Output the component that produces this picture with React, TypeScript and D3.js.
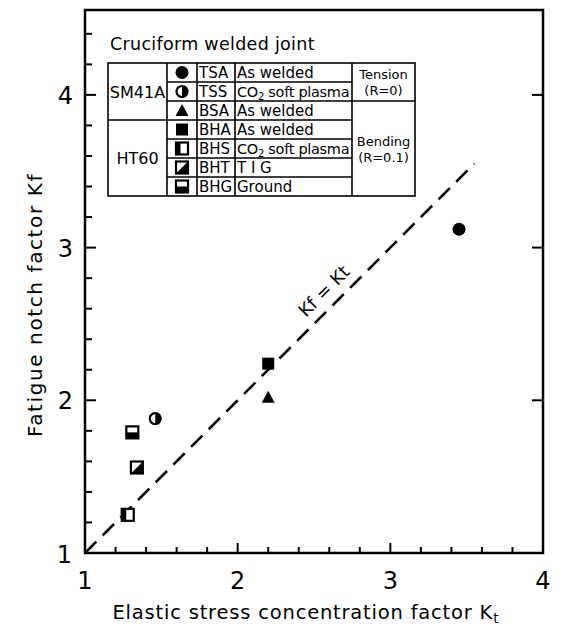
import React from "react";
import * as d3 from "d3";

// Kt (elastic stress concentration factor) and Kf (fatigue notch factor)
const codes = ["TSA", "TSS", "BSA", "BHA", "BHS", "BHT", "BHG"];
const kt = [3.45, 1.46, 2.2, 2.2, 1.28, 1.34, 1.31];
const kf = [3.12, 1.88, 2.02, 2.24, 1.25, 1.56, 1.79];
const conditions = ["As welded", "CO2 soft plasma", "As welded", "As welded", "CO2 soft plasma", "T I G", "Ground"];
const materials = [{ name: "SM41A", from: 0, to: 3 }, { name: "HT60", from: 3, to: 7 }];
const loadings = [
  { lines: ["Tension", "(R=0)"], from: 0, to: 2 },
  { lines: ["Bending", "(R=0.1)"], from: 2, to: 7 },
];
const xTickLabels = [1, 2, 3, 4];
const yTickLabels = [2, 3, 4];
const equalityLine = [1, 3.55];

const W = 561;
const H = 632;
const font = "DejaVu Sans, sans-serif";

const x = d3.scaleLinear().domain([1, 4]).range([85, 543]);
const y = d3.scaleLinear().domain([1, 4.556]).range([553, 10]);

function Marker({ code, cx, cy }: { code: string; cx: number; cy: number }) {
  const s = 12;
  const h = s / 2;
  const sq = { x: cx - h, y: cy - h, width: s, height: s };
  switch (code) {
    case "TSA":
      return <circle cx={cx} cy={cy} r={6.5} fill="#000" />;
    case "TSS":
      return (
        <g>
          <circle cx={cx} cy={cy} r={5.5} fill="#fff" stroke="#000" strokeWidth={2.2} />
          <path d={`M${cx},${cy - 5.5} A5.5,5.5 0 0 1 ${cx},${cy + 5.5} Z`} fill="#000" />
        </g>
      );
    case "BSA":
      return <path d={`M${cx},${cy - 6.5} L${cx + 6.5},${cy + 5.5} L${cx - 6.5},${cy + 5.5} Z`} fill="#000" />;
    case "BHA":
      return <rect {...sq} fill="#000" />;
    case "BHS":
      return (
        <g>
          <rect {...sq} fill="#fff" stroke="#000" strokeWidth={2.2} />
          <rect x={cx - h} y={cy - h} width={4.5} height={s} fill="#000" />
        </g>
      );
    case "BHT":
      return (
        <g>
          <rect {...sq} fill="#fff" stroke="#000" strokeWidth={2.2} />
          <path d={`M${cx + h},${cy - h} L${cx + h},${cy + h} L${cx - h},${cy + h} Z`} fill="#000" />
        </g>
      );
    default:
      return (
        <g>
          <rect {...sq} fill="#fff" stroke="#000" strokeWidth={2.2} />
          <rect x={cx - h} y={cy} width={s} height={h} fill="#000" />
        </g>
      );
  }
}

function Condition({ text, tx, ty }: { text: string; tx: number; ty: number }) {
  if (text.startsWith("CO2")) {
    return (
      <text x={tx} y={ty} fontSize={14.5} fontFamily={font} letterSpacing={-0.3}>
        CO<tspan fontSize={10} dy={3}>2</tspan>
        <tspan dy={-3}> soft plasma</tspan>
      </text>
    );
  }
  return (
    <text x={tx} y={ty} fontSize={15} fontFamily={font}>
      {text}
    </text>
  );
}

function Legend() {
  const left = 108;
  const cols = [108, 167, 197, 235, 352, 415];
  const top = 63;
  const rowH = 19;
  const rows = d3.range(codes.length + 1).map((i) => top + i * rowH);
  const bottom = rows[rows.length - 1];
  return (
    <g stroke="#000" strokeWidth={1.6}>
      <text x={left + 2} y={50} fontSize={17.5} fontFamily={font} stroke="none" letterSpacing={0.3}>
        Cruciform welded joint
      </text>
      <rect x={left} y={top} width={cols[5] - left} height={bottom - top} fill="none" />
      {cols.slice(1, 5).map((c) => (
        <line key={c} x1={c} x2={c} y1={top} y2={bottom} />
      ))}
      {rows.slice(1, -1).map((r) => (
        <line key={r} x1={cols[1]} x2={cols[4]} y1={r} y2={r} />
      ))}
      {materials.slice(1).map((m) => (
        <line key={m.name} x1={cols[0]} x2={cols[1]} y1={rows[m.from]} y2={rows[m.from]} />
      ))}
      {loadings.slice(1).map((l) => (
        <line key={l.lines[0]} x1={cols[4]} x2={cols[5]} y1={rows[l.from]} y2={rows[l.from]} />
      ))}
      {materials.map((m) => (
        <text
          key={m.name}
          x={(cols[0] + cols[1]) / 2}
          y={(rows[m.from] + rows[m.to]) / 2 + 6}
          textAnchor="middle"
          fontSize={16}
          fontFamily={font}
          stroke="none"
        >
          {m.name}
        </text>
      ))}
      {loadings.map((l) => {
        const mid = (rows[l.from] + rows[l.to]) / 2;
        return l.lines.map((t, j) => (
          <text
            key={t}
            x={(cols[4] + cols[5]) / 2}
            y={mid + (j === 0 ? -3 : 13)}
            textAnchor="middle"
            fontSize={13}
            fontFamily={font}
            stroke="none"
          >
            {t}
          </text>
        ));
      })}
      {codes.map((c, i) => {
        const cy = rows[i] + rowH / 2;
        return (
          <g key={c} stroke="none">
            <Marker code={c} cx={(cols[1] + cols[2]) / 2} cy={cy} />
            <text x={cols[2] + 2} y={cy + 5.5} fontSize={15} fontFamily={font}>
              {c}
            </text>
            <Condition text={conditions[i]} tx={cols[3] + 2} ty={cy + 5.5} />
          </g>
        );
      })}
    </g>
  );
}

export default function App() {
  const [x0, x1] = x.range();
  const [y0, y1] = y.range();
  const xTicks = x.ticks(15);
  const yTicks = y.ticks(18);
  const isMajor = (v: number) => Math.abs(v - Math.round(v)) < 1e-6;
  const line = d3
    .line<number>()
    .x((d) => x(d))
    .y((d) => y(d));
  const lx = x(2.64) - 7;
  const ly = y(2.64) - 7;

  return (
    <svg width={W} height={H} style={{ position: "absolute", left: 0, top: 0, background: "#fff" }}>
      <rect x={x0} y={y1} width={x1 - x0} height={y0 - y1} fill="none" stroke="#000" strokeWidth={2.5} />
      {xTicks.filter((v) => v > 1 && v < 4).map((v) => (
        <line key={v} x1={x(v)} x2={x(v)} y1={y0} y2={y0 - (isMajor(v) ? 10 : 6)} stroke="#000" strokeWidth={2} />
      ))}
      {yTicks.filter((v) => v > 1).map((v) => (
        <line key={v} x1={x0} x2={x0 + (isMajor(v) ? 11 : 7)} y1={y(v)} y2={y(v)} stroke="#000" strokeWidth={2} />
      ))}
      {yTickLabels.map((v) => (
        <line key={"r" + v} x1={x1} x2={x1 - 11} y1={y(v)} y2={y(v)} stroke="#000" strokeWidth={2} />
      ))}
      {xTickLabels.map((v) => (
        <text key={v} x={x(v)} y={y0 + 36} textAnchor="middle" fontSize={24} fontFamily={font}>
          {v}
        </text>
      ))}
      {yTickLabels.map((v) => (
        <text key={v} x={x0 - 12} y={y(v) + 9} textAnchor="end" fontSize={24} fontFamily={font}>
          {v}
        </text>
      ))}
      <text x={x0 - 13} y={y0 + 10} textAnchor="end" fontSize={24} fontFamily={font}>
        1
      </text>
      <text x={306} y={619} textAnchor="middle" fontSize={19.5} fontFamily={font} letterSpacing={0.8}>
        Elastic stress concentration factor{"  "}K<tspan fontSize={14} dy={4}>t</tspan>
      </text>
      <text
        transform={`translate(42,${305}) rotate(-90)`}
        textAnchor="middle"
        fontSize={20}
        fontFamily={font}
        letterSpacing={1.6}
      >
        Fatigue notch factor{"   "}Kf
      </text>
      <path d={line(equalityLine) ?? ""} fill="none" stroke="#000" strokeWidth={2.6} strokeDasharray="16 9" />
      <text
        transform={`translate(${lx},${ly}) rotate(-45)`}
        textAnchor="middle"
        fontSize={18}
        fontFamily={font}
      >
        Kf = Kt
      </text>
      {codes.map((c, i) => (
        <Marker key={c} code={c} cx={x(kt[i])} cy={y(kf[i])} />
      ))}
      <Legend />
    </svg>
  );
}
